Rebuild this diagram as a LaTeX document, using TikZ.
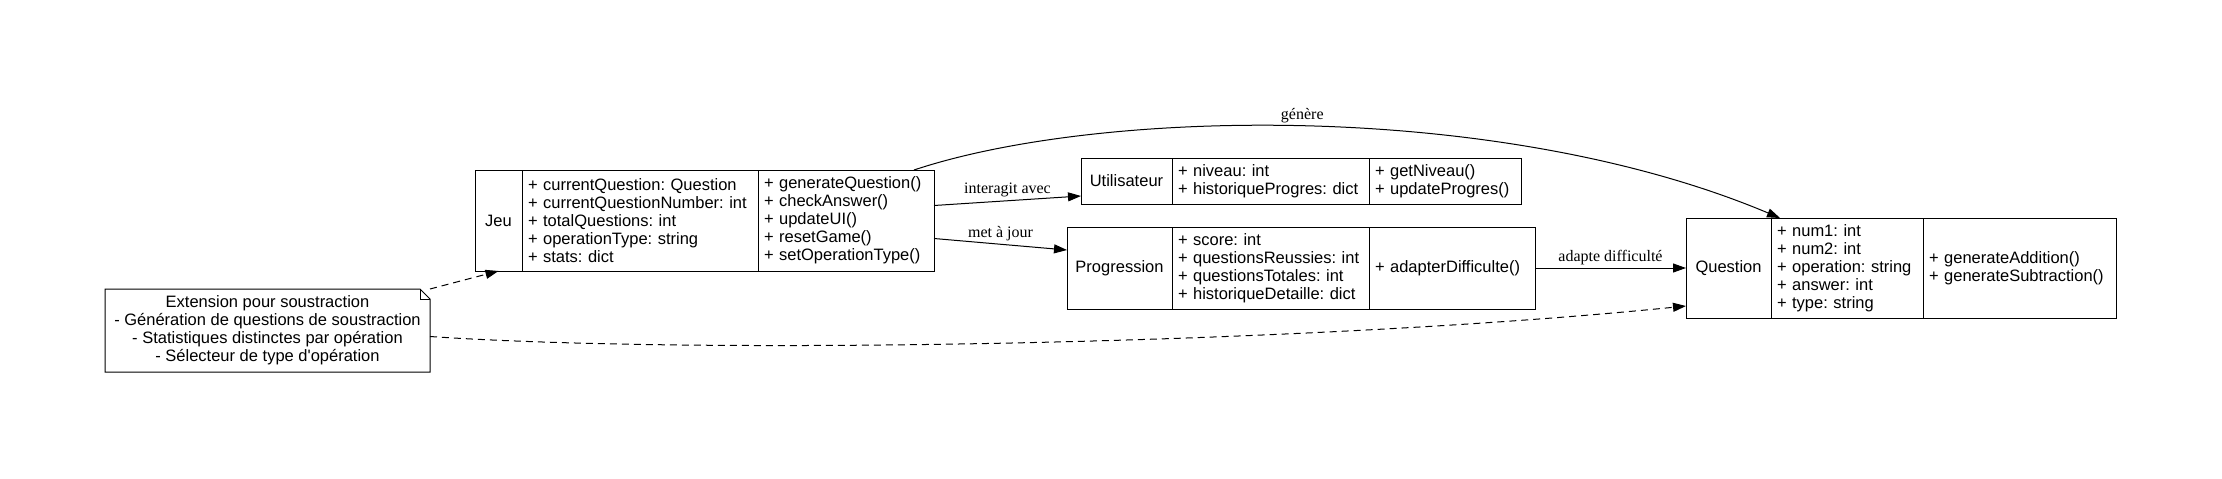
\documentclass[tikz,border=0pt]{standalone}
\usepackage{fontspec}
\setmainfont{Liberation Sans}
\newfontfamily\edgefont{Liberation Serif}
\usetikzlibrary{positioning, arrows.meta, calc}
\frenchspacing

\tikzset{
  cell/.style={draw=black, line width=1pt, inner xsep=6pt, inner ysep=0pt, outer sep=0pt, font=\fontsize{16.5}{18}\selectfont},
  listcell/.style={cell, align=left},
  link/.style={line width=1pt, -{Triangle[length=13pt, width=9pt]}},
  dep/.style={link, dash pattern=on 7pt off 5pt},
  edgelabel/.style={font=\edgefont\fontsize{16}{18}\selectfont, inner sep=3pt}
}

\begin{document}
\begin{tikzpicture}[x=1pt, y=-1pt, line join=miter]
  \useasboundingbox (0,0) rectangle (2222,479);
  % Jeu class
  \node [cell, minimum width=47pt, minimum height=101pt, anchor=north west] (jeu-name) at (475, 170) {Jeu};
  \node [listcell, text width=224pt, minimum height=101pt, right=0pt of jeu-name] (jeu-attr) {+ currentQuestion: Question\\+ currentQuestionNumber: int\\+ totalQuestions: int\\+ operationType: string\\+ stats: dict};
  \node [listcell, text width=164pt, minimum height=101pt, right=0pt of jeu-attr] (jeu-meth) {+ generateQuestion()\\+ checkAnswer()\\+ updateUI()\\+ resetGame()\\+ setOperationType()};
  % Utilisateur class
  \node [cell, minimum width=91pt, minimum height=46pt, anchor=north west] (util-name) at (1081, 158) {Utilisateur};
  \node [listcell, text width=185pt, minimum height=46pt, right=0pt of util-name] (util-attr) {+ niveau: int\\+ historiqueProgres: dict};
  \node [listcell, text width=140pt, minimum height=46pt, right=0pt of util-attr] (util-meth) {+ getNiveau()\\+ updateProgres()};
  % Progression class
  \node [cell, minimum width=105pt, minimum height=82pt, anchor=north west] (prog-name) at (1067, 227) {Progression};
  \node [listcell, text width=185pt, minimum height=82pt, right=0pt of prog-name] (prog-attr) {+ score: int\\+ questionsReussies: int\\+ questionsTotales: int\\+ historiqueDetaille: dict};
  \node [listcell, text width=154pt, minimum height=82pt, right=0pt of prog-attr] (prog-meth) {+ adapterDifficulte()};
  % Question class
  \node [cell, minimum width=85pt, minimum height=100pt, anchor=north west] (quest-name) at (1686, 218) {Question};
  \node [listcell, text width=140pt, minimum height=100pt, right=0pt of quest-name] (quest-attr) {+ num1: int\\+ num2: int\\+ operation: string\\+ answer: int\\+ type: string};
  \node [listcell, text width=181pt, minimum height=100pt, right=0pt of quest-attr] (quest-meth) {+ generateAddition()\\+ generateSubtraction()};
  % Note
  \node [cell, draw=none, align=center, minimum width=325pt, minimum height=83pt, anchor=north west] (note) at (105, 289) {Extension pour soustraction\\- Génération de questions de soustraction\\- Statistiques distinctes par opération\\- Sélecteur de type d\textquotesingle opération};
  \draw [line width=1pt] (note.north west) -- ($(note.north east)+(-10,0)$) -- ($(note.north east)+(0,10)$) -- (note.south east) -- (note.south west) -- cycle;
  \draw [line width=0.7pt] ($(note.north east)+(-10,0)$) -- ($(note.north east)+(-10,10)$) -- ($(note.north east)+(0,10)$);
  % Associations
  \draw [link] ([xshift=-20pt]jeu-meth.north east) .. controls (1100, 108) and (1500, 100) .. ([xshift=9pt]quest-attr.north west) node [edgelabel, pos=0.49, above] {génère};
  \draw [link] ([yshift=15pt]jeu-meth.east) -- ([yshift=-15pt]util-name.west) node [edgelabel, midway, above] {interagit avec};
  \draw [link] ([yshift=-18pt]jeu-meth.east) -- ([yshift=18pt]prog-name.west) node [edgelabel, midway, above] {met à jour};
  \draw [link] (prog-meth.east) -- (quest-name.west) node [edgelabel, midway, above] {adapte difficulté};
  % Note links
  \draw [dep] (note.north east) -- (jeu-name.south);
  \draw [dep] ([yshift=-6pt]note.east) .. controls (700, 355) and (1300, 345) .. ([yshift=12pt]quest-name.south west);
\end{tikzpicture}
\end{document}
